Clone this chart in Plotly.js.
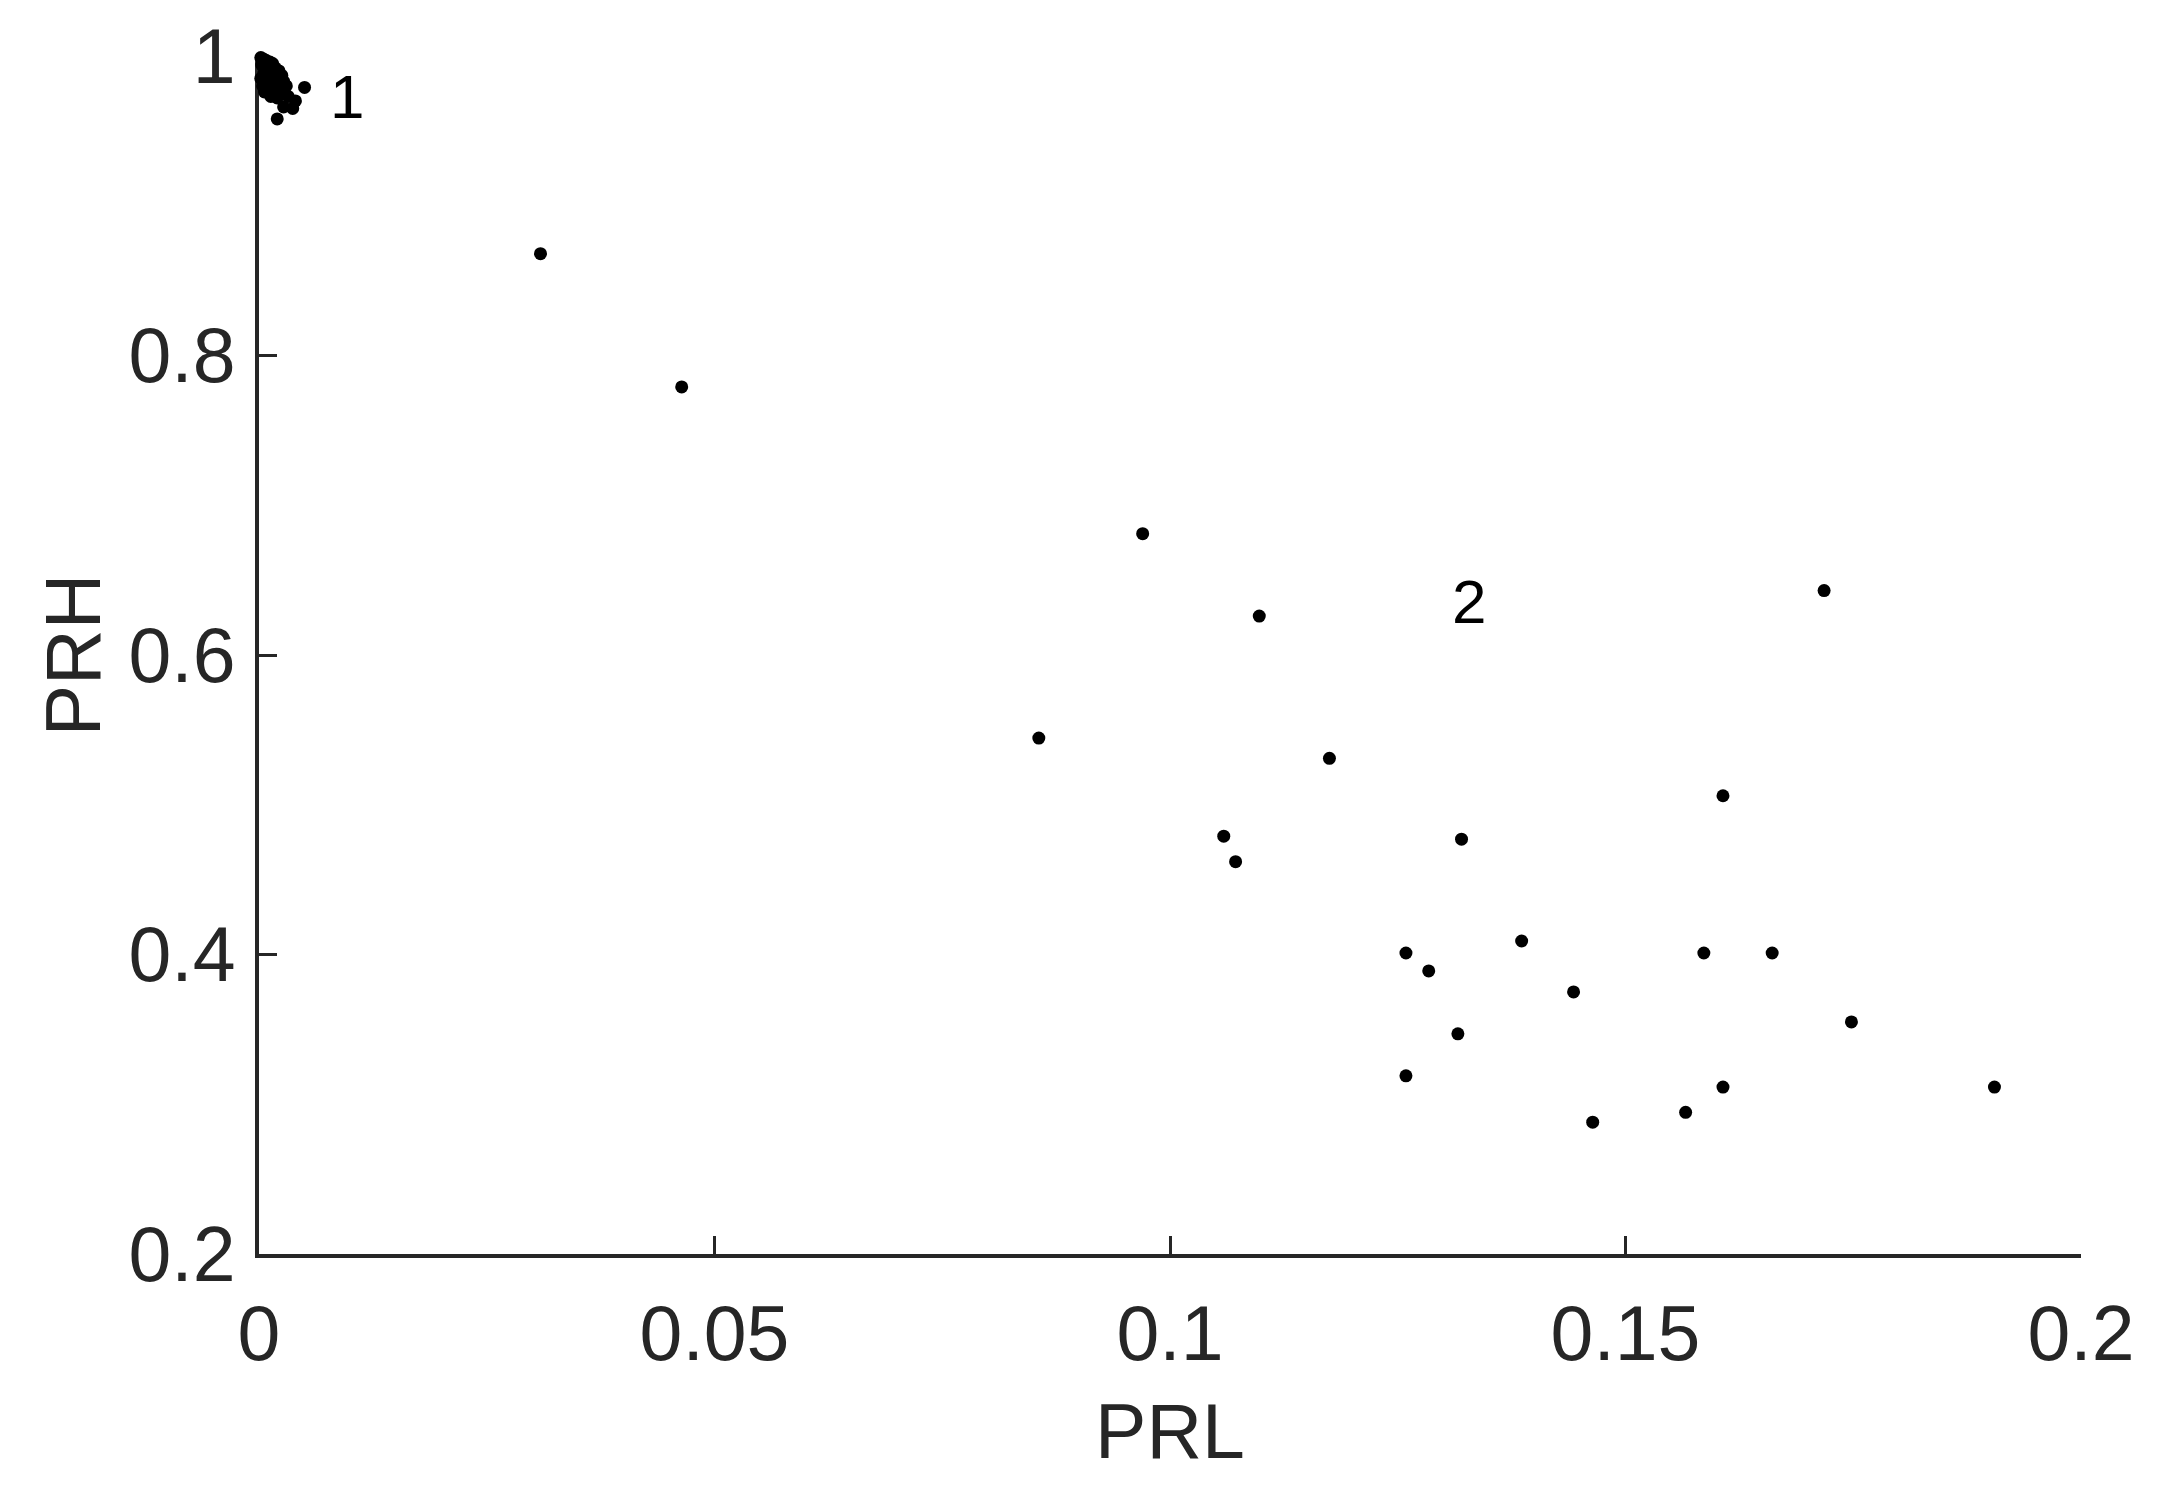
<!DOCTYPE html>
<html>
<head>
<meta charset="utf-8">
<script src="https://cdn.plot.ly/plotly-3.0.1.min.js"></script>
<style>html,body{margin:0;padding:0;background:#fff;}#chart{width:2180px;height:1500px;}</style>
</head>
<body>
<div id="chart"></div>
<script>
// Cluster 1 (top-left, dense)
const prl1 = [0.0002,0.0005,0.0008,0.0012,0.0015,0.0003,0.0007,0.0011,0.0018,0.0022,0.0025,0.0005,0.0009,0.0014,0.0019,0.0027,0.0030,0.0010,0.0016,0.0022,0.0013,0.0020,0.0026,0.0050,0.0040,0.0037,0.0020,0.0027,0.0032,0.0002,0.0004,0.0006];
const prh1 = [0.999,0.998,0.997,0.996,0.995,0.994,0.992,0.990,0.992,0.990,0.987,0.988,0.985,0.983,0.985,0.983,0.980,0.980,0.977,0.978,0.973,0.972,0.975,0.979,0.970,0.965,0.958,0.966,0.973,0.985,0.980,0.976];
// Intermediate and cluster 2 points
const prl2 = [0.0309,0.0464,0.0970,0.1098,0.0856,0.1175,0.1059,0.1072,0.1320,0.1607,0.1718,0.1259,0.1284,0.1386,0.1443,0.1316,0.1586,0.1661,0.1748,0.1259,0.1607,0.1566,0.1464,0.1905];
const prh2 = [0.868,0.779,0.681,0.626,0.5445,0.531,0.479,0.462,0.477,0.506,0.643,0.401,0.389,0.409,0.375,0.347,0.401,0.401,0.355,0.319,0.3115,0.2946,0.288,0.3115];
const xTicks = [0,0.05,0.1,0.15,0.2];
const yTicks = [0.2,0.4,0.6,0.8,1];
const clusterLabels = ['1','2'];
const labelX = [0.0097,0.1328];
const labelY = [0.973,0.636];

const ink = '#262626';
const fontFam = '"Liberation Sans", Arial, sans-serif';
const marker = {color:'#000000', size:13, line:{width:0}};

const data = [
  {x:prl1, y:prh1, type:'scatter', mode:'markers', marker:marker, cliponaxis:false, showlegend:false, hoverinfo:'x+y'},
  {x:prl2, y:prh2, type:'scatter', mode:'markers', marker:marker, cliponaxis:false, showlegend:false, hoverinfo:'x+y'}
];

const annotations = clusterLabels.map((t,i)=>({
  x:labelX[i], y:labelY[i], xref:'x', yref:'y', text:t, showarrow:false,
  font:{family:fontFam, size:62, color:'#000000'}, xanchor:'center', yanchor:'middle'
}));

const layout = {
  width:2180, height:1500,
  paper_bgcolor:'#ffffff', plot_bgcolor:'#ffffff',
  margin:{l:259, r:99, t:56, b:246, pad:0},
  font:{family:fontFam, color:ink, size:77},
  showlegend:false,
  xaxis:{
    range:[0,0.2], tickvals:xTicks, ticktext:xTicks.map(String),
    showline:true, linecolor:ink, linewidth:4, mirror:false,
    ticks:'inside', ticklen:18, tickwidth:3, tickcolor:ink,
    showgrid:false, zeroline:false,
    tickfont:{family:fontFam, size:77, color:ink},
    ticklabelstandoff:10,
    title:{text:'PRL', font:{family:fontFam, size:77, color:ink}, standoff:30},
    layer:'below traces'
  },
  yaxis:{
    range:[0.2,1], tickvals:yTicks, ticktext:yTicks.map(String),
    showline:true, linecolor:ink, linewidth:4, mirror:false,
    ticks:'inside', ticklen:18, tickwidth:3, tickcolor:ink,
    showgrid:false, zeroline:false,
    tickfont:{family:fontFam, size:77, color:ink},
    ticklabelstandoff:4,
    title:{text:'PRH', font:{family:fontFam, size:77, color:ink}, standoff:4},
    layer:'below traces'
  },
  annotations:annotations
};

Plotly.newPlot('chart', data, layout, {displayModeBar:false, staticPlot:true});
</script>
</body>
</html>
